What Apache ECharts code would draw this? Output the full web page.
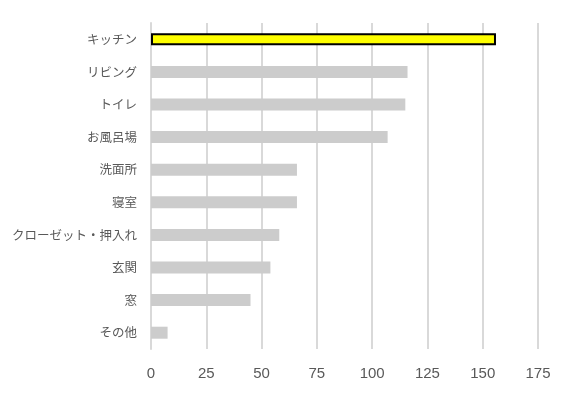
<!DOCTYPE html>
<html>
<head>
    <meta charset="utf-8">
    <script src="https://cdn.jsdelivr.net/npm/echarts@6/dist/echarts.min.js"></script>
    <style>
        html, body { margin: 0; padding: 0; background: #fff; }
        #main { width: 575px; height: 398px; }
    </style>
</head>
<body>
    <div id="main"></div>
    <script>
        var categories = ['キッチン', 'リビング', 'トイレ', 'お風呂場', '洗面所', '寝室', 'クローゼット・押入れ', '玄関', '窓', 'その他'];
        var values = [156, 116, 115, 107, 66, 66, 58, 54, 45, 7.5];
        var xTicks = [0, 25, 50, 75, 100, 125, 150, 175];
        var highlightIndex = 0;

        var chart = echarts.init(document.getElementById('main'));

        var barData = values.map(function (v, i) {
            if (i === highlightIndex) {
                return {
                    value: v,
                    itemStyle: { color: '#ffff00', borderColor: '#000', borderWidth: 2 }
                };
            }
            return v;
        });

        var option = {
            animation: false,
            grid: { left: 151, right: 37, top: 23, bottom: 49, containLabel: false },
            xAxis: {
                type: 'value',
                min: xTicks[0],
                max: xTicks[xTicks.length - 1],
                interval: 25,
                axisLine: { show: false },
                axisTick: { show: false },
                axisLabel: {
                    color: '#595959',
                    fontSize: 15,
                    fontFamily: 'Liberation Sans, Noto Sans, sans-serif',
                    margin: 17
                },
                splitLine: { lineStyle: { color: '#d9d9d9', width: 2 } }
            },
            yAxis: {
                type: 'category',
                inverse: true,
                data: categories,
                axisLine: { show: true, lineStyle: { color: '#d9d9d9', width: 2 } },
                axisTick: { show: false },
                axisLabel: {
                    color: '#595959',
                    fontSize: 12.5,
                    fontFamily: 'Noto Sans CJK JP, sans-serif',
                    margin: 14
                }
            },
            series: [{
                type: 'bar',
                data: barData,
                barWidth: 12,
                itemStyle: { color: '#cccccc' }
            }]
        };

        chart.setOption(option);
    </script>
</body>
</html>
